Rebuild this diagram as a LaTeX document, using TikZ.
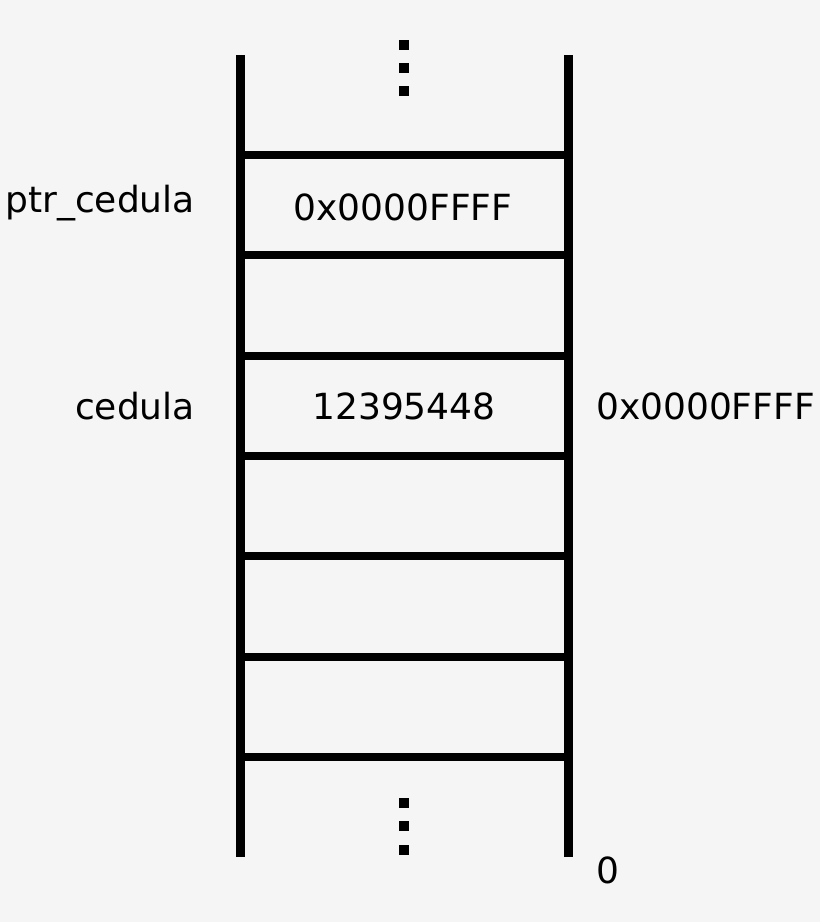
\documentclass[tikz,border=0pt]{standalone}
\usepackage{fontspec}
\setmainfont{DejaVu Sans}
\tikzset{
  rail/.style={line width=9pt},
  rung/.style={line width=8pt},
  dot/.style={fill=black, minimum size=10pt, inner sep=0pt},
  lbl/.style={font=\fontsize{36}{42}\selectfont, inner sep=0pt}
}
\begin{document}
\begin{tikzpicture}[x=1pt,y=-1pt]
        % Background
        \fill[black!4] (0,0) rectangle (820,922);
        \useasboundingbox (0,0) rectangle (820,922);

        % Draw rails
        \coordinate (lt) at (240,55); \coordinate (lb) at (240,857);
        \coordinate (rt) at (568,55); \coordinate (rb) at (568,857);
        \draw[rail] (lt) -- (lb);
        \draw[rail] (rt) -- (rb);

        % Draw rungs
        \foreach \y in {155,255,356,456,556,657,757}
            \draw[rung] (240,\y) -- (568,\y);

        % Dots
        \foreach \y in {45,68,91,803,826,850}
            \node[dot] at (404,\y) {};

        % Labels
        \node[lbl] (val1) at (403,207) {0x0000FFFF};
        \node[lbl] (val2) at (404,406) {12395448};
        \node[lbl, anchor=east] (ptr) at (195,203) {ptr\_cedula};
        \node[lbl, anchor=east] (ced) at (195,406) {cedula};
        \node[lbl, anchor=west] (addr) at (596,406) {0x0000FFFF};
        \node[lbl, anchor=west] (zero) at (596,870) {0};
    \end{tikzpicture}
\end{document}
